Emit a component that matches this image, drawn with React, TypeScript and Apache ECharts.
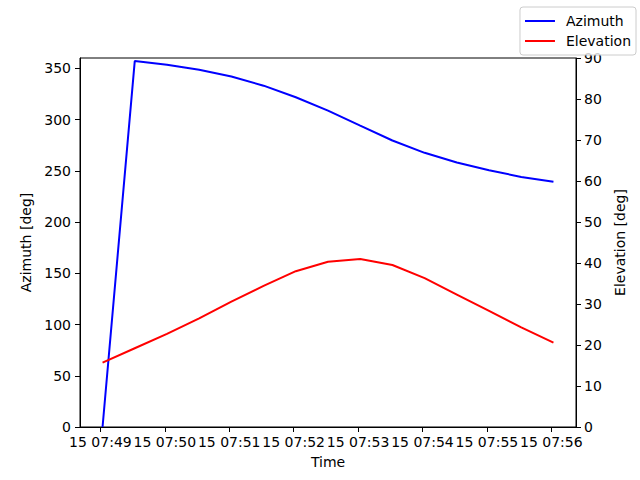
import { useEffect, useRef } from "react";
import * as echarts from "echarts";

// sample times (HH:MM:SS on day 15)
const times = [
  "07:49:02", "07:49:32", "07:50:02", "07:50:32", "07:51:02",
  "07:51:32", "07:52:02", "07:52:32", "07:53:02", "07:53:32",
  "07:54:02", "07:54:32", "07:55:02", "07:55:32", "07:56:02",
];
const azimuth = [0, 357, 353.4, 348.5, 342, 333, 321.7, 308.6, 294, 279.5, 267.5, 258, 250.5, 244, 239.2];
const elevation = [15.7, 19.2, 22.7, 26.5, 30.6, 34.4, 38.0, 40.3, 41.0, 39.5, 36.3, 32.3, 28.3, 24.3, 20.6];

const xTicks = ["07:49", "07:50", "07:51", "07:52", "07:53", "07:54", "07:55", "07:56"];
const azTicks = [0, 50, 100, 150, 200, 250, 300, 350];
const elTicks = [0, 10, 20, 30, 40, 50, 60, 70, 80, 90];

const toSec = (t: string) => {
  const [h, m, s] = t.split(":").map(Number);
  return h * 3600 + m * 60 + (s || 0);
};

const FONT = "DejaVu Sans";

export default function App() {
  const chartRef = useRef<HTMLDivElement>(null);

  useEffect(() => {
    if (!chartRef.current) return;
    document.body.style.margin = "0";
    const chart = echarts.init(chartRef.current, null, { renderer: "svg" });

    const xs = times.map(toSec);
    const tickSecs = xTicks.map(toSec);
    const xMin = toSec("07:48:41");
    const xMax = toSec("07:56:23");

    const fmt = (v: number) => {
      const h = Math.floor(v / 3600);
      const m = Math.round((v - h * 3600) / 60);
      return `15 ${String(h).padStart(2, "0")}:${String(m).padStart(2, "0")}`;
    };

    const axisCommon = {
      axisLine: { show: true, lineStyle: { color: "#000", width: 1 } },
      axisTick: { show: true, inside: false, length: 5, lineStyle: { color: "#000", width: 1 } },
      splitLine: { show: false },
      nameTextStyle: { color: "#000", fontSize: 14, fontFamily: FONT },
    };

    chart.setOption({
      animation: false,
      backgroundColor: "#fff",
      textStyle: { fontFamily: FONT },
      grid: {
        left: 80,
        right: 64,
        top: 58,
        bottom: 53,
        show: true,
        borderColor: "#000",
        borderWidth: 1,
        containLabel: false,
      },
      legend: {
        orient: "vertical",
        right: 4,
        top: 7,
        padding: [6, 5, 6, 5],
        itemGap: 4,
        itemWidth: 30,
        itemHeight: 2,
        icon: "rect",
        borderColor: "#cccccc",
        borderWidth: 1,
        borderRadius: 3,
        backgroundColor: "rgba(255,255,255,0.8)",
        textStyle: { fontSize: 14, color: "#000", fontFamily: FONT, padding: [0, 0, 0, 6], lineHeight: 16 },
        data: ["Azimuth", "Elevation"],
      },
      xAxis: {
        type: "value",
        min: xMin,
        max: xMax,
        name: "Time",
        nameLocation: "middle",
        nameGap: 28,
        ...axisCommon,
        axisTick: { ...axisCommon.axisTick, customValues: tickSecs },
        axisLabel: {
          customValues: tickSecs,
          formatter: (v: number) => fmt(v),
          color: "#000",
          fontSize: 14,
          fontFamily: FONT,
          margin: 8,
        },
      },
      yAxis: [
        {
          type: "value",
          min: 0,
          max: 360,
          name: "Azimuth [deg]",
          nameLocation: "middle",
          nameGap: 41,
          ...axisCommon,
          axisTick: { ...axisCommon.axisTick, customValues: azTicks },
          axisLabel: {
            customValues: azTicks,
            color: "#000",
            fontSize: 14,
            fontFamily: FONT,
            margin: 9,
          },
        },
        {
          type: "value",
          min: 0,
          max: 90,
          position: "right",
          name: "Elevation [deg]",
          nameLocation: "middle",
          nameGap: 28,
          ...axisCommon,
          axisTick: { ...axisCommon.axisTick, customValues: elTicks },
          axisLabel: {
            customValues: elTicks,
            color: "#000",
            fontSize: 14,
            fontFamily: FONT,
            margin: 8,
          },
        },
      ],
      series: [
        {
          name: "Azimuth",
          type: "line",
          yAxisIndex: 0,
          data: xs.map((x, i) => [x, azimuth[i]]),
          showSymbol: false,
          symbol: "none",
          lineStyle: { color: "#0000ff", width: 2 },
          itemStyle: { color: "#0000ff" },
          clip: true,
        },
        {
          name: "Elevation",
          type: "line",
          yAxisIndex: 1,
          data: xs.map((x, i) => [x, elevation[i]]),
          showSymbol: false,
          symbol: "none",
          lineStyle: { color: "#ff0000", width: 2 },
          itemStyle: { color: "#ff0000" },
          clip: true,
        },
      ],
    });

    return () => {
      chart.dispose();
    };
  }, []);

  return <div ref={chartRef} style={{ width: 640, height: 480 }} />;
}
